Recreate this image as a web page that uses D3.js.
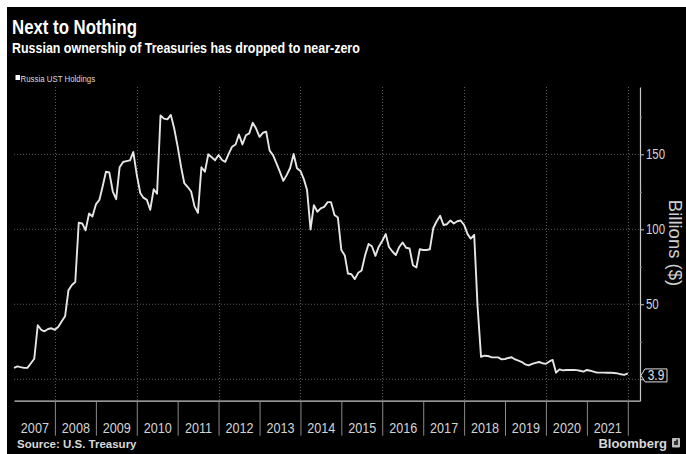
<!DOCTYPE html>
<html><head><meta charset="utf-8">
<script src="https://cdn.jsdelivr.net/npm/d3@7"></script>
<style>
html,body{margin:0;padding:0;background:#fff;}
svg{display:block;}
text{font-family:"Liberation Sans",Arial,sans-serif;}
</style></head><body>
<svg id="chart" width="686" height="454"></svg>
<script>
const title = "Next to Nothing";
const subtitle = "Russian ownership of Treasuries has dropped to near-zero";
const seriesName = "Russia UST Holdings";
const sourceText = "Source: U.S. Treasury";
const yAxisTitle = "Billions ($)";
const brand = "Bloomberg";
// monthly month-end values, first = Dec 2006 (plotted at 1 Jan 2007), last = Dec 2021
const firstMonth = "2007-01";
const holdings = [
  7.6, 8.6, 8.1, 7.6, 7.6, 10.7, 13.7, 36, 33, 32, 33.5, 34,
  33, 35, 38.5, 42, 59.3, 62.9, 64.9, 104.4, 103.9, 99.3, 110.5, 108.5,
  116.6, 119.6, 128.2, 138.4, 137.9, 125.2, 120.1, 141.4, 144.9, 145.5, 146, 151.5,
  136.3, 124.2, 121.1, 119.6, 113, 126.7, 123.7, 175.9, 173.8, 173.3, 176.3, 167.2,
  155.1, 141.4, 130.8, 128.2, 125.2, 115.1, 111, 141.4, 138.4, 150, 148, 146,
  149.5, 146.2, 145, 150.5, 155.1, 156.6, 163.2, 156.6, 162.7, 164, 171.1, 167.2,
  161.7, 164.4, 165.1, 152.5, 149.5, 144, 138.4, 132.3, 136.3, 140.9, 150.2, 140.7,
  138.9, 133.3, 126.2, 99.9, 116.1, 111.7, 114, 115, 118.1, 118.1, 109.5, 107.9,
  86.2, 82.6, 70.5, 70, 66.8, 71, 72.5, 82.6, 90.2, 88.7, 82.3, 88.4,
  92.2, 96.8, 88.2, 85.2, 82.8, 88.2, 91.2, 87.7, 87.2, 76, 74.5, 86.7,
  86.2, 86.2, 86.7, 100.9, 105.4, 109, 102.9, 103.4, 105.9, 103.9, 105.4, 105.9,
  102.9, 96.8, 93.8, 96.3, 48.7, 14.9, 15.7, 15.5, 14.7, 14.6, 14.6, 13.3,
  13.5, 14.2, 14.7, 13.2, 12.4, 11.5, 9.9, 9.3, 10.3, 10.9, 11.5, 10.7,
  10.3, 11.9, 12.9, 4.4, 6.6, 5.9, 6.2, 6.2, 6.2, 6.1, 5.7, 5.1,
  6.2, 5.7, 5.1, 4.4, 4.4, 4.4, 4.3, 4.4, 4.2, 3.9, 3.3, 2.9,
  3.9
];
const yearLabels = [2007,2008,2009,2010,2011,2012,2013,2014,2015,2016,2017,2018,2019,2020,2021];
const yearSeparators = [2008,2009,2010,2011,2012,2013,2014,2015,2016,2017,2018,2019,2020,2021,2022];
const gridYears = [2008,2010,2012,2014,2016,2018,2020,2022];
const yTicks = [0, 50, 100, 150];
const yMinorTicks = [25, 75, 125, 175];
const lastLabel = "3.9";

const NARROW = 0.82; // Arial Narrow = Arial compressed horizontally
const svg = d3.select("#chart");
const W = 686, H = 454;
const L = 14, R = 640, T = 87, B = 400.7;

svg.append("rect").attr("x",0).attr("y",0).attr("width",W).attr("height",H).attr("fill","#fff");
svg.append("rect").attr("x",7).attr("y",7).attr("width",W-7).attr("height",H-7).attr("fill","#000");

function narrowText(px, py, size, txt, opts={}) {
  return svg.append("text")
    .attr("transform",`translate(${px},${py}) scale(${NARROW},1)`)
    .attr("font-size",size)
    .attr("font-weight",opts.bold?"bold":"normal")
    .attr("text-anchor",opts.anchor||"start")
    .attr("fill",opts.fill||"#d8d8d8")
    .text(txt);
}

const parseM = d3.timeParse("%Y-%m");
const start = parseM(firstMonth);
const data = holdings.map((v,i)=>({date:d3.timeMonth.offset(start,i), v}));

const x = d3.scaleTime().domain([new Date(2007,0,1), new Date(2022,3,20)]).range([L,R]);
const y = d3.scaleLinear().domain([-14.3, 194.9]).range([B,T]);

// grid
const grid = svg.append("g");
grid.selectAll("line.h").data(yTicks).join("line")
  .attr("x1",L).attr("x2",R).attr("y1",d=>y(d)).attr("y2",d=>y(d))
  .attr("stroke","#5a5a5a").attr("stroke-width",1).attr("stroke-dasharray","1,2");
grid.selectAll("line.v").data(gridYears).join("line")
  .attr("x1",d=>Math.round(x(new Date(d,0,1)))+0.5).attr("x2",d=>Math.round(x(new Date(d,0,1)))+0.5)
  .attr("y1",T).attr("y2",B)
  .attr("stroke","#5a5a5a").attr("stroke-width",1).attr("stroke-dasharray","1,2");

// x axis: separators
const xSep = d3.axisBottom(x).tickValues(yearSeparators.map(d=>new Date(d,0,1)))
  .tickSize(35).tickSizeOuter(0).tickFormat("");
const gxs = svg.append("g").attr("transform",`translate(0,${B})`).call(xSep);
gxs.select(".domain").attr("stroke","#c8c8c8").attr("stroke-width",1.2);
gxs.selectAll(".tick line").attr("stroke","#8a8a8a");

// x axis: labels at mid-year
const xLab = d3.axisBottom(x).tickValues(yearLabels.map(d=>new Date(d,6,2)))
  .tickSize(0).tickPadding(21).tickFormat(d3.timeFormat("%Y"));
const gxl = svg.append("g").attr("transform",`translate(0,${B})`).call(xLab);
gxl.select(".domain").remove();
gxl.selectAll("text").attr("font-family","Liberation Sans, Arial, sans-serif")
  .attr("font-size",15.4).attr("fill","#d4d4d4").attr("transform",`scale(${NARROW},1)`);

// y axis
const yAx = d3.axisRight(y).tickValues(yTicks).tickSize(4).tickSizeOuter(0).tickPadding(3.3)
  .tickFormat(d=>d===0?"":d);
const gy = svg.append("g").attr("transform",`translate(${R},0)`).call(yAx);
gy.select(".domain").attr("stroke","#c8c8c8").attr("stroke-width",1.2);
gy.selectAll(".tick line").attr("stroke","#c8c8c8");
gy.selectAll("text").attr("font-family","Liberation Sans, Arial, sans-serif")
  .attr("font-size",14).attr("fill","#d4d4d4").attr("transform",`scale(${NARROW},1)`);
const yMin = d3.axisRight(y).tickValues(yMinorTicks).tickSize(2).tickFormat("");
const gym = svg.append("g").attr("transform",`translate(${R},0)`).call(yMin);
gym.select(".domain").remove();
gym.selectAll(".tick line").attr("stroke","#8a8a8a");

// line
svg.append("path").datum(data)
  .attr("fill","none").attr("stroke","#e6e6e6").attr("stroke-width",1.9)
  .attr("stroke-linejoin","round")
  .attr("d", d3.line().x(d=>x(d.date)).y(d=>y(d.v)));

// last value label
const last = data[data.length-1];
const ly = y(last.v) + 2;
const lab = svg.append("g").attr("transform",`translate(${R+1},${ly})`);
lab.append("path").attr("d","M0,0 L4,-6.5 L26,-6.5 L26,6.5 L4,6.5 Z")
  .attr("fill","#000").attr("stroke","#e0e0e0").attr("stroke-width",1);
lab.append("text").attr("transform",`translate(15,5) scale(${NARROW},1)`).attr("text-anchor","middle")
  .attr("font-size",14.5).attr("fill","#e0e0e0").text(lastLabel);

// y title
svg.append("text").attr("transform",`translate(669,243) rotate(90)`)
  .attr("text-anchor","middle")
  .attr("font-size",18.5).attr("fill","#d0d0d0").text(yAxisTitle);

// titles
narrowText(12, 34, 20.5, title, {bold:true, fill:"#fff"});
narrowText(12, 52.5, 15.2, subtitle, {bold:true, fill:"#fff"});

// legend
svg.append("rect").attr("x",15.5).attr("y",75).attr("width",4.5).attr("height",5).attr("fill","#fff");
narrowText(20.5, 82, 9.6, seriesName, {fill:"#dcdcdc"});

// footer
svg.append("text").attr("x",17).attr("y",448)
  .attr("font-size",11.5).attr("font-weight","bold").attr("fill","#d8d8d8").text(sourceText);
svg.append("text").attr("x",667).attr("y",447.5).attr("text-anchor","end")
  .attr("font-size",13).attr("font-weight","bold").attr("fill","#d8d8d8").text(brand);
svg.append("rect").attr("x",672).attr("y",438).attr("width",8).attr("height",9.5).attr("rx",1).attr("fill","#bdbdbd");
svg.append("path").attr("d","M674,445 L674,441 L676,441 L676,439.5 L678,439.5 L678,445 Z").attr("fill","#333");
</script>
</body></html>
